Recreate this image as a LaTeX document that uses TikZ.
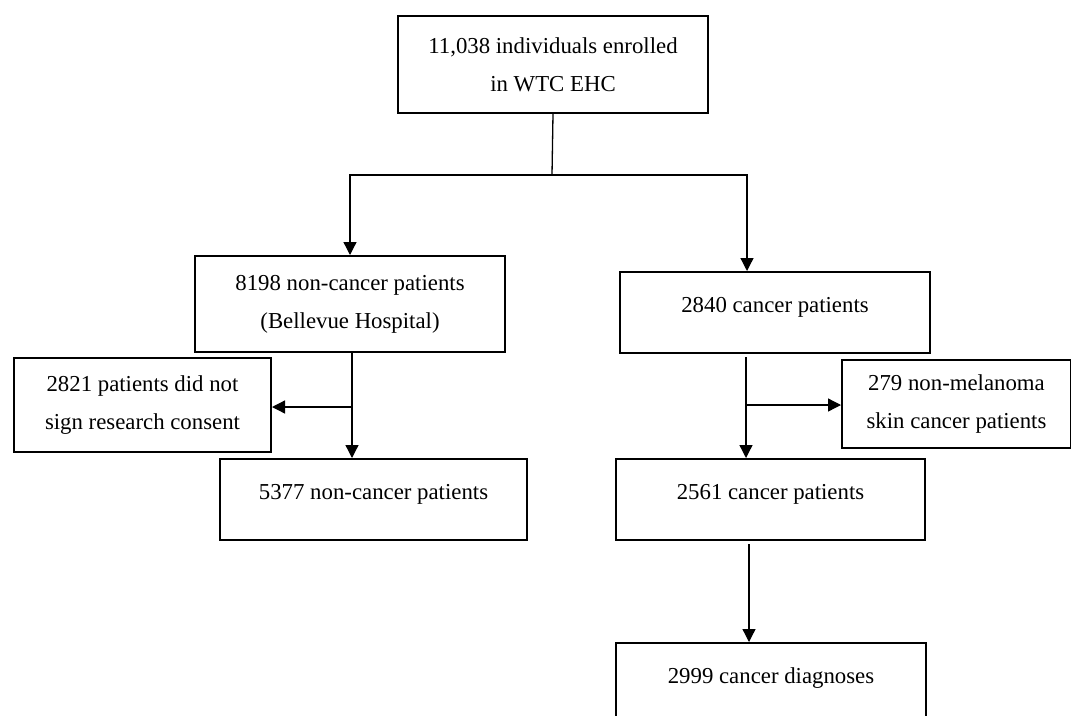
\documentclass[tikz,border=0pt]{standalone}
\usepackage{fontspec}
\setmainfont{Liberation Serif}
\usetikzlibrary{arrows.meta}
\begin{document}
\begin{tikzpicture}[x=1pt,y=-1pt,
  box/.style={draw, line width=2pt, anchor=north west, inner sep=0pt, align=center,
    font=\fontsize{22.8}{38}\selectfont},
  onebox/.style={box, minimum height=81pt, text height=15pt, text depth=15pt},
  conn/.style={line width=1.3pt},
  arr/.style={conn, -{Triangle[length=13pt,width=13pt]}}
]
\clip (0,0) rectangle (1071,715);
\fill[white] (0,0) rectangle (1071,715);

\node[box, minimum width=310pt, minimum height=97pt] (top) at (397,15)
  {11,038 individuals enrolled\\in WTC EHC};
\node[box, minimum width=310pt, minimum height=96pt] (b8198) at (194,255)
  {8198 non-cancer patients\\(Bellevue Hospital)};
\node[onebox, minimum width=310pt] (b2840) at (619,271) {2840 cancer patients};
\node[box, minimum width=257pt, minimum height=94pt] (b2821) at (13,357)
  {2821 patients did not\\sign research consent};
\node[box, minimum width=229pt, minimum height=88pt] (b279) at (841,359)
  {279 non-melanoma\\skin cancer patients};
\node[onebox, minimum width=307pt] (b5377) at (219,458) {5377 non-cancer patients};
\node[onebox, minimum width=309pt] (b2561) at (615,458) {2561 cancer patients};
\node[onebox, minimum width=310pt] (b2999) at (615,642) {2999 cancer diagnoses};

% top split
\coordinate (j) at (552,175);
\draw[conn] (top.south) -- (j);
\draw[arr] (j) -| (b8198.north);
\draw[arr] (j) -| ([xshift=-28pt]b2840.north);

% left branch
\coordinate (lx) at (352,407);
\draw[arr] (b8198.south -| lx) -- (b5377.north -| lx);
\draw[arr] (lx) -- (b2821.east |- lx);

% right branch
\coordinate (rs) at (746,357);
\coordinate (rx) at (746,405);
\draw[arr] (rs) -- (b2561.north -| rs);
\draw[arr] (rx) -- (b279.west |- rx);

% bottom
\coordinate (bs) at (749,544);
\draw[arr] (bs) -- (b2999.north -| bs);
\end{tikzpicture}
\end{document}
